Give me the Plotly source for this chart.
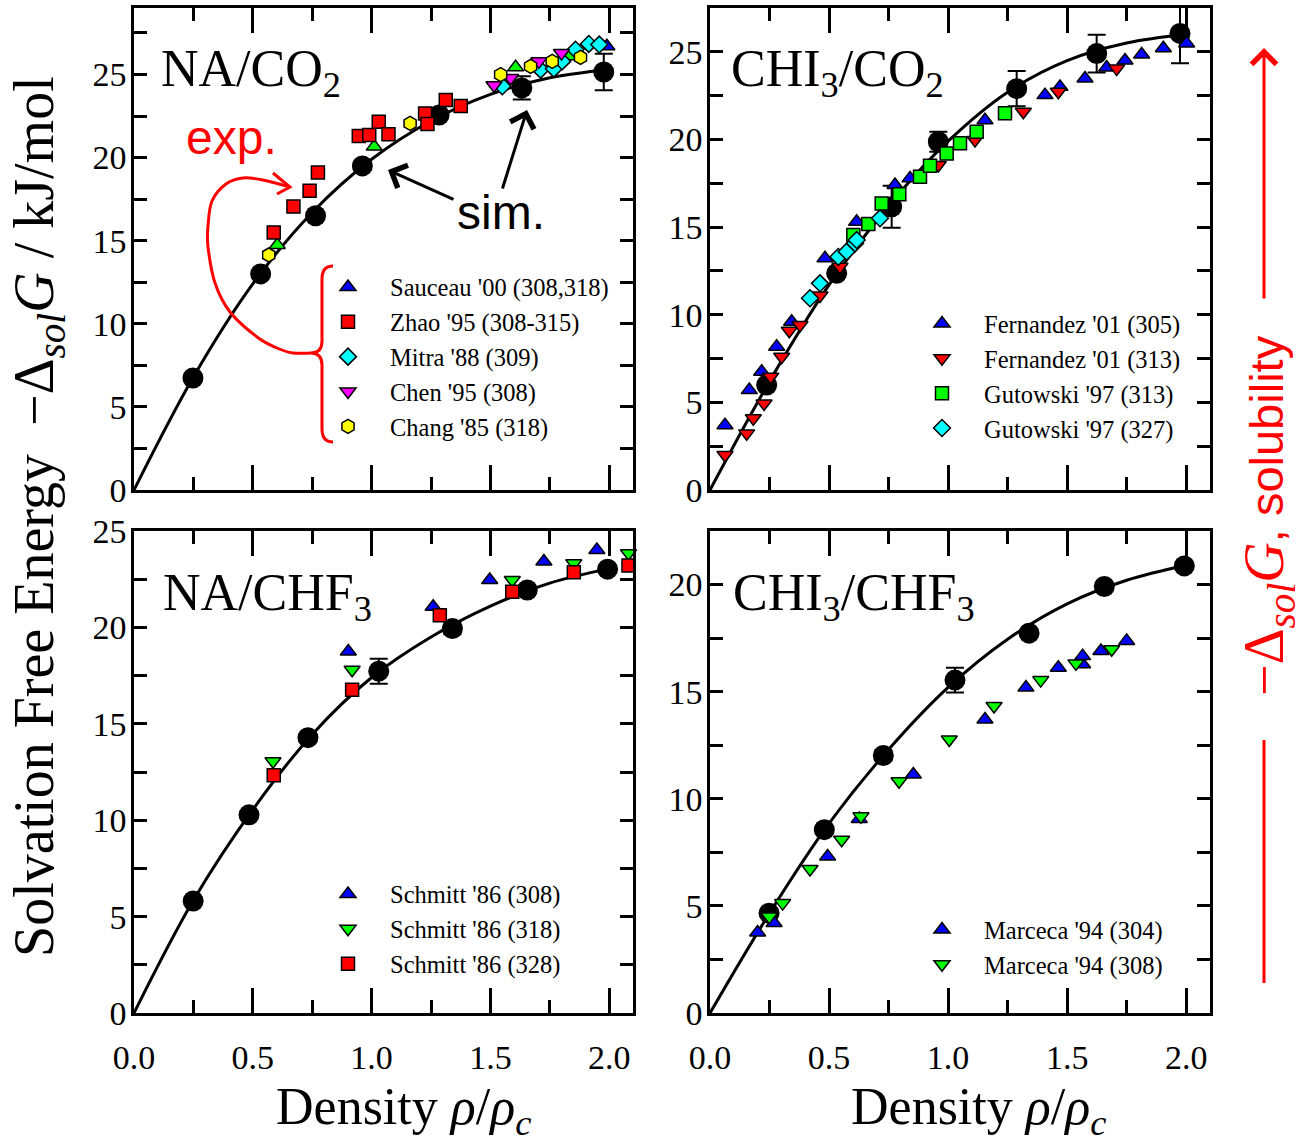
import plotly.graph_objects as go

W, H = 1302, 1143
SERIF = "Liberation Serif"
SANS = "Liberation Sans"

BLUE, RED, GREEN = "#0000ff", "#ff0000", "#00ff00"
CYAN, MAGENTA, YELLOW = "#00ffff", "#ff00ff", "#ffff00"

# ---------------- NA / CO2 ----------------
na_co2_sim_x = [0.248, 0.533, 0.764, 0.961, 1.284, 1.632, 1.977]
na_co2_sim_y = [6.74, 13.0, 16.5, 19.5, 22.56, 24.19, 25.15]
na_co2_sim_err = [0.0, 0.0, 0.0, 0.25, 0.2, 0.7, 1.1]
na_co2_fit_x = [0.0, 0.25, 0.5, 0.75, 1.0, 1.25, 1.5, 1.75, 2.0]
na_co2_fit_y = [0.0, 6.8, 12.4, 16.7, 19.9, 22.2, 23.8, 24.8, 25.3]

sauceau308_x = [1.99]
sauceau308_y = [26.7]
sauceau318_x = [0.603, 1.011, 1.606, 1.833]
sauceau318_y = [14.74, 20.66, 25.43, 26.1]
zhao_x = [0.588, 0.671, 0.739, 0.774, 0.946, 0.990, 1.030, 1.071, 1.225, 1.235, 1.312, 1.375]
zhao_y = [15.5, 17.05, 18.0, 19.1, 21.3, 21.36, 22.16, 21.4, 22.66, 22.02, 23.46, 23.1]
mitra_x = [1.55, 1.711, 1.767, 1.802, 1.858, 1.914, 1.958]
mitra_y = [24.29, 25.29, 25.35, 25.79, 26.49, 26.84, 26.8]
chen_x = [1.515, 1.585, 1.704, 1.799]
chen_y = [24.35, 24.79, 25.79, 26.29]
chang_x = [0.567, 1.162, 1.543, 1.669, 1.76, 1.879]
chang_y = [14.14, 22.06, 24.99, 25.49, 25.79, 26.03]

# ---------------- CHI3 / CO2 ----------------
chi3_co2_sim_x = [0.238, 0.532, 0.763, 0.959, 1.288, 1.624, 1.974]
chi3_co2_sim_y = [5.99, 12.36, 16.16, 19.87, 22.9, 24.9, 26.05]
chi3_co2_sim_err = [0.0, 0.0, 1.2, 0.57, 1.0, 1.08, 1.7]
chi3_co2_fit_x = [0.0, 0.25, 0.5, 0.75, 1.0, 1.25, 1.5, 1.75, 2.0]
chi3_co2_fit_y = [0.0, 6.2, 11.7, 16.2, 19.9, 22.7, 24.5, 25.5, 26.0]

fern305_x = [0.063, 0.165, 0.217, 0.28, 0.343, 0.483, 0.616, 0.777, 0.84, 1.155,
             1.407, 1.47, 1.575, 1.666, 1.743, 1.813, 1.904, 2.002]
fern305_y = [3.7, 5.7, 6.75, 8.18, 9.6, 13.22, 15.3, 17.4, 17.78, 21.1,
             22.53, 23.0, 23.48, 24.1, 24.5, 24.85, 25.2, 25.48]
fern313_x = [0.063, 0.154, 0.182, 0.227, 0.255, 0.301, 0.333, 0.378, 0.462, 0.546,
             0.959, 1.113, 1.316, 1.463, 1.708]
fern313_y = [2.0, 3.23, 4.09, 4.94, 6.46, 7.6, 9.09, 9.41, 11.1, 12.74,
             18.54, 19.97, 21.58, 22.72, 24.05]
gut313_x = [0.602, 0.665, 0.721, 0.795, 0.882, 0.924, 0.994, 1.05, 1.12, 1.239]
gut313_y = [14.55, 15.17, 16.35, 16.87, 17.87, 18.5, 19.2, 19.78, 20.44, 21.49]
gut327_x = [0.42, 0.462, 0.539, 0.574, 0.609, 0.616, 0.714]
gut327_y = [10.94, 11.79, 13.3, 13.6, 14.07, 14.26, 15.5]

# ---------------- NA / CHF3 ----------------
na_chf3_sim_x = [0.249, 0.484, 0.732, 1.03, 1.34, 1.655, 1.993]
na_chf3_sim_y = [5.81, 10.28, 14.28, 17.73, 19.94, 21.94, 23.02]
na_chf3_sim_err = [0.0, 0.0, 0.2, 0.65, 0.3, 0.0, 0.2]
na_chf3_fit_x = [0.0, 0.25, 0.5, 0.75, 1.0, 1.25, 1.5, 1.75, 2.0]
na_chf3_fit_y = [0.0, 5.85, 10.55, 14.45, 17.4, 19.5, 21.1, 22.3, 23.05]

schmitt308_x = [0.902, 1.259, 1.497, 1.725, 1.948]
schmitt308_y = [18.75, 21.07, 22.46, 23.42, 24.02]
schmitt318_x = [0.585, 0.918, 1.592, 1.851, 2.081]
schmitt318_y = [13.06, 17.8, 22.46, 23.33, 23.85]
schmitt328_x = [0.588, 0.918, 1.287, 1.592, 1.851, 2.081]
schmitt328_y = [12.33, 16.77, 20.63, 21.85, 22.86, 23.21]

# ---------------- CHI3 / CHF3 ----------------
chi3_chf3_sim_x = [0.248, 0.48, 0.728, 1.029, 1.34, 1.656, 1.992]
chi3_chf3_sim_y = [4.66, 8.56, 12.02, 15.54, 17.73, 19.91, 20.87]
chi3_chf3_sim_err = [0.0, 0.0, 0.25, 0.58, 0.0, 0.0, 0.0]
chi3_chf3_fit_x = [0.0, 0.25, 0.5, 0.75, 1.0, 1.25, 1.5, 1.75, 2.0]
chi3_chf3_fit_y = [0.0, 4.66, 8.85, 12.3, 15.2, 17.45, 19.1, 20.2, 20.9]

marceca304_x = [0.2, 0.269, 0.494, 0.627, 0.854, 1.155, 1.327, 1.463, 1.565, 1.565, 1.642, 1.75]
marceca304_y = [3.76, 4.2, 7.31, 9.06, 11.13, 13.7, 15.19, 16.12, 16.28, 16.66, 16.9, 17.37]
marceca308_x = [0.249, 0.305, 0.42, 0.553, 0.634, 0.794, 1.005, 1.193, 1.389, 1.537, 1.687]
marceca308_y = [4.5, 5.13, 6.72, 8.09, 9.18, 10.82, 12.77, 14.33, 15.54, 16.32, 16.98]

x_tick_vals = [0.0, 0.5, 1.0, 1.5, 2.0]
x_tick_text = ["0.0", "0.5", "1.0", "1.5", "2.0"]


def X(p):
    return p / W


def Y(p):
    return 1 - p / H


fig = go.Figure()


def add_fit(x, y, xa, ya):
    fig.add_trace(go.Scatter(x=x, y=y, mode="lines", xaxis=xa, yaxis=ya,
                             line=dict(color="black", width=3, shape="spline"),
                             showlegend=False, hoverinfo="skip"))


def add_sim(x, y, err, xa, ya):
    fig.add_trace(go.Scatter(x=x, y=y, mode="markers", xaxis=xa, yaxis=ya,
                             marker=dict(color="black", size=21),
                             error_y=dict(type="data", array=err, color="black",
                                          thickness=2, width=9),
                             showlegend=False, cliponaxis=False))


def add_exp(x, y, symbol, color, name, xa, ya, legend, size=14, show=True):
    fig.add_trace(go.Scatter(x=x, y=y, mode="markers", name=name, xaxis=xa, yaxis=ya,
                             legend=legend, showlegend=show, cliponaxis=False,
                             marker=dict(symbol=symbol, color=color, size=size,
                                         line=dict(color="black", width=1.5))))


# NA/CO2
add_fit(na_co2_fit_x, na_co2_fit_y, "x", "y")
add_sim(na_co2_sim_x, na_co2_sim_y, na_co2_sim_err, "x", "y")
add_exp(sauceau318_x, sauceau318_y, "triangle-up", GREEN, "Sauceau '00 (318)", "x", "y", "legend", show=False)
add_exp(sauceau308_x, sauceau308_y, "triangle-up", BLUE, "Sauceau '00 (308,318)", "x", "y", "legend")
add_exp(zhao_x, zhao_y, "square", RED, "Zhao '95 (308-315)", "x", "y", "legend", size=13)
add_exp(mitra_x, mitra_y, "diamond", CYAN, "Mitra '88 (309)", "x", "y", "legend", size=13)
add_exp(chen_x, chen_y, "triangle-down", MAGENTA, "Chen '95 (308)", "x", "y", "legend")
add_exp(chang_x, chang_y, "hexagon", YELLOW, "Chang '85 (318)", "x", "y", "legend")

# CHI3/CO2
add_fit(chi3_co2_fit_x, chi3_co2_fit_y, "x2", "y2")
add_sim(chi3_co2_sim_x, chi3_co2_sim_y, chi3_co2_sim_err, "x2", "y2")
add_exp(fern305_x, fern305_y, "triangle-up", BLUE, "Fernandez '01 (305)", "x2", "y2", "legend2")
add_exp(fern313_x, fern313_y, "triangle-down", RED, "Fernandez '01 (313)", "x2", "y2", "legend2")
add_exp(gut313_x, gut313_y, "square", GREEN, "Gutowski '97 (313)", "x2", "y2", "legend2", size=13)
add_exp(gut327_x, gut327_y, "diamond", CYAN, "Gutowski '97 (327)", "x2", "y2", "legend2", size=13)

# NA/CHF3
add_fit(na_chf3_fit_x, na_chf3_fit_y, "x3", "y3")
add_sim(na_chf3_sim_x, na_chf3_sim_y, na_chf3_sim_err, "x3", "y3")
add_exp(schmitt308_x, schmitt308_y, "triangle-up", BLUE, "Schmitt '86 (308)", "x3", "y3", "legend3")
add_exp(schmitt318_x, schmitt318_y, "triangle-down", GREEN, "Schmitt '86 (318)", "x3", "y3", "legend3")
add_exp(schmitt328_x, schmitt328_y, "square", RED, "Schmitt '86 (328)", "x3", "y3", "legend3", size=13)

# CHI3/CHF3
add_fit(chi3_chf3_fit_x, chi3_chf3_fit_y, "x4", "y4")
add_sim(chi3_chf3_sim_x, chi3_chf3_sim_y, chi3_chf3_sim_err, "x4", "y4")
add_exp(marceca304_x, marceca304_y, "triangle-up", BLUE, "Marceca '94 (304)", "x4", "y4", "legend4")
add_exp(marceca308_x, marceca308_y, "triangle-down", GREEN, "Marceca '94 (308)", "x4", "y4", "legend4")


# ---------------- axes ----------------
def xaxis(domain, anchor, labels):
    return dict(domain=domain, anchor=anchor, range=[0, 2.1], automargin=False,
                showline=True, linewidth=2.5, linecolor="black", mirror="ticks",
                ticks="inside", ticklen=25, tickwidth=2.5, tickcolor="black",
                tickvals=x_tick_vals, ticktext=x_tick_text,
                showticklabels=labels, showgrid=False, zeroline=False,
                ticklabelstandoff=12,
                tickfont=dict(family=SERIF, size=34, color="black"),
                minor=dict(dtick=0.25, tick0=0, ticks="inside", ticklen=13, tickwidth=2.5,
                           tickcolor="black", showgrid=False))


def yaxis(domain, anchor, top):
    return dict(domain=domain, anchor=anchor, range=[0, top], automargin=False,
                showline=True, linewidth=2.5, linecolor="black", mirror="ticks",
                ticks="inside", ticklen=13, tickwidth=2.5, tickcolor="black",
                dtick=5, tick0=0, showgrid=False, zeroline=False,
                ticklabelstandoff=-2,
                tickfont=dict(family=SERIF, size=34, color="black"),
                minor=dict(dtick=2.5, tick0=0, ticks="inside", ticklen=13, tickwidth=2.5,
                           tickcolor="black", showgrid=False))


left_dom = [X(134), X(633)]
right_dom = [X(710), X(1210)]
top_dom = [Y(490), Y(8)]
bot_dom = [Y(1013), Y(531)]


def legend_box(xpx, ypx):
    return dict(x=X(xpx), y=Y(ypx), xanchor="left", yanchor="middle",
                bgcolor="rgba(0,0,0,0)", borderwidth=0, itemwidth=74,
                font=dict(family=SERIF, size=24.5, color="black"),
                traceorder="normal")


fig.update_layout(
    template="none",
    width=W, height=H, margin=dict(l=0, r=0, t=0, b=0, pad=0, autoexpand=False),
    paper_bgcolor="white", plot_bgcolor="white",
    xaxis=xaxis(left_dom, "y", False), yaxis=yaxis(top_dom, "x", 29),
    xaxis2=xaxis(right_dom, "y2", False), yaxis2=yaxis(top_dom, "x2", 27.5),
    xaxis3=xaxis(left_dom, "y3", True), yaxis3=yaxis(bot_dom, "x3", 25),
    xaxis4=xaxis(right_dom, "y4", True), yaxis4=yaxis(bot_dom, "x4", 22.5),
    legend=legend_box(306, 357),
    legend2=legend_box(900, 376),
    legend3=legend_box(306, 929),
    legend4=legend_box(900, 947),
)

# ---------------- text ----------------
ann = []


def label(text, xpx, ypx, size=50, family=SERIF, color="black", xanchor="left",
          yanchor="middle", angle=0):
    ann.append(dict(text=text, x=X(xpx), y=Y(ypx), xref="paper", yref="paper",
                    xanchor=xanchor, yanchor=yanchor, showarrow=False, textangle=angle,
                    font=dict(family=family, size=size, color=color)))


label("NA/CO<sub>2</sub>", 159, 72, size=52)
label("CHI<sub>3</sub>/CO<sub>2</sub>", 729, 72, size=52)
label("NA/CHF<sub>3</sub>", 161, 596, size=52)
label("CHI<sub>3</sub>/CHF<sub>3</sub>", 731, 596, size=52)

label("exp.", 231, 138, size=48, family=SANS, color=RED, xanchor="center")
label("sim.", 501, 212, size=48, family=SANS, xanchor="center")

density = "Density <i>ρ</i>/<i>ρ</i><sub><i>c</i></sub>"
label(density, 274, 1110, size=52)
label(density, 849, 1110, size=52)

label("Solvation Free Energy  −Δ<sub><i>sol</i></sub><i>G</i> / kJ/mol", 38, 517,
      size=56, xanchor="center", yanchor="middle", angle=-90)
label('<span style="font-family:Liberation Serif;font-size:56px">−Δ<sub><i>sol</i></sub>'
      '<i>G</i></span>, solubility',
      1268, 516, size=47, family=SANS, color=RED, xanchor="center", yanchor="middle",
      angle=-90)


def arrow(tip, tail, color="black"):
    ann.append(dict(x=X(tip[0]), y=Y(tip[1]), xref="paper", yref="paper", text="",
                    showarrow=True, ax=tail[0] - tip[0], ay=tail[1] - tip[1],
                    arrowhead=4, arrowsize=1.6, arrowwidth=3, arrowcolor=color,
                    standoff=0, startstandoff=0))


arrow((388, 170), (455, 200))
arrow((527, 110), (502, 190))
arrow((1264, 48), (1264, 300), RED)

fig.update_layout(annotations=ann)


# ---------------- red bracket and curved pointer ----------------
def path_from(pts):
    d = f"M{X(pts[0][0]):.5f},{Y(pts[0][1]):.5f}"
    for i in range(len(pts) - 1):
        p0 = pts[i - 1] if i > 0 else pts[i]
        p1, p2 = pts[i], pts[i + 1]
        p3 = pts[i + 2] if i + 2 < len(pts) else p2
        c1 = (p1[0] + (p2[0] - p0[0]) / 6, p1[1] + (p2[1] - p0[1]) / 6)
        c2 = (p2[0] - (p3[0] - p1[0]) / 6, p2[1] - (p3[1] - p1[1]) / 6)
        d += (f" C{X(c1[0]):.5f},{Y(c1[1]):.5f} {X(c2[0]):.5f},{Y(c2[1]):.5f}"
              f" {X(p2[0]):.5f},{Y(p2[1]):.5f}")
    return d


def q(ctrl, end):
    return f" Q{X(ctrl[0]):.5f},{Y(ctrl[1]):.5f} {X(end[0]):.5f},{Y(end[1]):.5f}"


def m(p, cmd="M"):
    return f"{cmd}{X(p[0]):.5f},{Y(p[1]):.5f}"


brace = (m((333, 266)) + q((322, 266), (322, 279)) + " " + m((322, 341), "L")
         + q((322, 353), (311, 353)) + q((322, 353), (322, 365)) + " "
         + m((322, 429), "L") + q((322, 442), (333, 442)))

pointer_pts = [(311, 353), (293, 353), (277, 348), (257, 337), (230, 312), (215, 283),
               (208, 247), (208, 226), (212, 201), (226, 184), (243, 178), (263, 180),
               (290, 187)]
chevron = m((273, 173)) + " " + m((290, 187), "L") + " " + m((277, 194), "L")

shapes = [
    dict(type="path", xref="paper", yref="paper", path=brace,
         line=dict(color=RED, width=3)),
    dict(type="path", xref="paper", yref="paper", path=path_from(pointer_pts),
         line=dict(color=RED, width=3)),
    dict(type="path", xref="paper", yref="paper", path=chevron,
         line=dict(color=RED, width=3)),
    dict(type="line", xref="paper", yref="paper", x0=X(1264), x1=X(1264),
         y0=Y(740), y1=Y(983), line=dict(color=RED, width=3)),
]
fig.update_layout(shapes=shapes)

fig.write_html("out.html")
